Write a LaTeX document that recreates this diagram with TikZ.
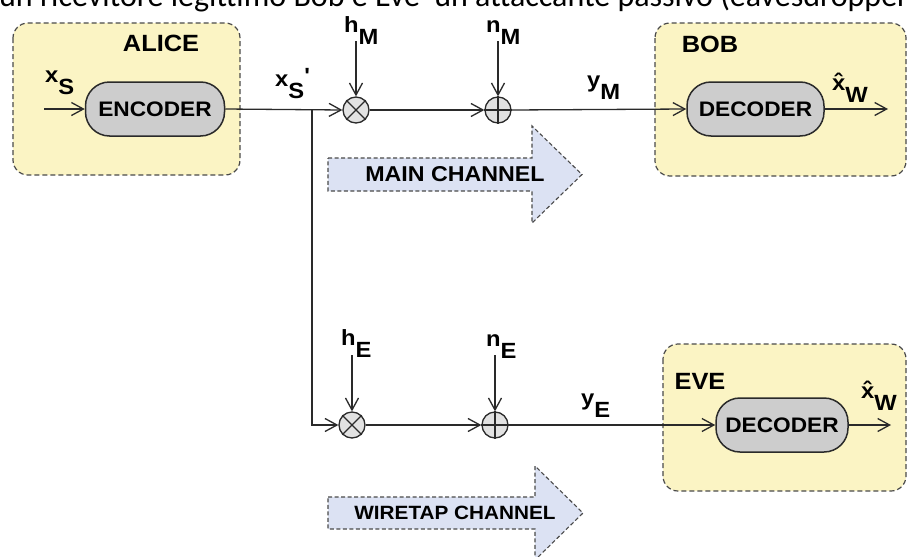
\documentclass[tikz,border=0pt]{standalone}
\usepackage{fontspec}
\setmainfont{Liberation Sans}
\newfontfamily\labfont[FakeStretch=1.08]{Liberation Sans}
\newfontfamily\bodyfont{Carlito}
\usetikzlibrary{arrows.meta}

\definecolor{partyfill}{HTML}{FBF4C4}
\definecolor{chanfill}{HTML}{DCE2F3}
\definecolor{blockfill}{HTML}{CDCDCD}
\definecolor{opfill}{HTML}{E2E2E2}
\definecolor{ink}{HTML}{2A2A2A}

% symbol with a lowered subscript, as printed on the wires
\newcommand{\sig}[2]{{\labfont\bfseries #1\raisebox{-0.58em}{#2}}}

\tikzset{
  wire/.style={draw=ink, line width=1.3pt},
  flow/.style={wire, -{Straight Barb[length=12pt,width=13pt]}},
  party/.style={draw=ink!85, fill=partyfill, line width=1.2pt,
                dash pattern=on 5pt off 3pt, rounded corners=15pt},
  block/.style={draw=ink, fill=blockfill, line width=1.5pt, rounded corners=24pt,
                inner sep=0pt, font=\labfont\bfseries\fontsize{21}{21}\selectfont},
  opnode/.style={circle, draw=ink, fill=opfill, line width=1.3pt,
                 minimum size=26pt, inner sep=0pt},
  chan/.style={draw=ink!85, fill=chanfill, line width=1.1pt,
               dash pattern=on 4pt off 2.5pt},
  title/.style={font=\labfont\bfseries\fontsize{23.5}{23.5}\selectfont, inner sep=0pt},
  sigl/.style={anchor=base west, inner sep=0pt, font=\fontsize{22}{22}\selectfont},
}

\begin{document}
\begin{tikzpicture}[x=1pt, y=-1pt]
\useasboundingbox (0,0) rectangle (908,557);
\clip (0,0) rectangle (908,557);
\fill[white] (0,0) rectangle (908,557);

% running text above the figure, cut by the frame
\node[anchor=base west, inner sep=0pt, font=\bodyfont\fontsize{32}{32}\selectfont]
  (caption) at (-1,6.5) {un ricevitore legittimo Bob e Eve' un attaccante passivo (eavesdropper};

% parties
\path[party] (13,23) rectangle (240,175);
\path[party] (655,23) rectangle (906,176);
\path[party] (663,344) rectangle (906,491);
\node[title] (alice) at (161,43.5) {ALICE};
\node[title] (bob) at (710,44) {BOB};
\node[title] (eve) at (700,381) {EVE};

% channel arrows
\path[chan] (328,158) -- (532,158) -- (532,126) -- (582,174.5) -- (532,223)
  -- (532,191) -- (328,191) -- cycle;
\node[font=\labfont\bfseries\fontsize{21.5}{21.5}\selectfont, inner sep=0pt]
  (mainlbl) at (455,174.5) {MAIN CHANNEL};
\path[chan] (328,497) -- (535,497) -- (535,466) -- (583,513) -- (535,560)
  -- (535,529) -- (328,529) -- cycle;
\node[font=\labfont\bfseries\fontsize{19.2}{19.2}\selectfont, inner sep=0pt]
  (taplbl) at (455,513) {WIRETAP CHANNEL};

% processing blocks
\node[block, minimum width=139pt, minimum height=54pt] (enc) at (155,109) {ENCODER};
\node[block, minimum width=137pt, minimum height=54pt] (decb) at (755.5,109) {DECODER};
\node[block, minimum width=132pt, minimum height=54pt] (dece) at (782,425) {DECODER};

% multipliers and adders
\node[opnode] (mulm) at (356,110) {};
\node[opnode] (addm) at (498,110) {};
\node[opnode] (mule) at (352,425) {};
\node[opnode] (adde) at (495,425) {};
\foreach \m in {mulm,mule}{
  \draw[wire, line width=1.1pt] (\m.45) -- (\m.225) (\m.135) -- (\m.315);
}
\foreach \a in {addm,adde}{
  \draw[wire, line width=1.1pt] (\a.north) -- (\a.south) (\a.west) -- (\a.east);
}

% free ends and branch point
\coordinate (xin) at (44,109);
\coordinate (split) at (312,109);
\coordinate (houtb) at (888,109);
\coordinate (houte) at (891,425);
\coordinate (hmtop) at (356,41);
\coordinate (nmtop) at (498,41);
\coordinate (hetop) at (352,355);
\coordinate (netop) at (495,355);

% signal path
\draw[flow] (xin) -- (enc.west);
\draw[flow] (enc.east) -- (mulm.west);
\draw[flow] (split) |- (mule.west);
\draw[flow] (mulm.east) -- (addm.west);
\draw[flow] (addm.east) -- (decb.west);
\draw[flow] (decb.east) -- (houtb);
\draw[flow] (mule.east) -- (adde.west);
\draw[flow] (adde.east) -- (dece.west);
\draw[flow] (dece.east) -- (houte);
\draw[flow] (hmtop) -- (mulm.north);
\draw[flow] (nmtop) -- (addm.north);
\draw[flow] (hetop) -- (mule.north);
\draw[flow] (netop) -- (adde.north);

% signal labels
\node[sigl] (xs) at (45,82) {\sig{x}{S}};
\node[sigl] (xsp) at (275,86) {\sig{x}{S}\labfont\bfseries\raisebox{0.1em}{'}};
\node[sigl] (hm) at (344,32) {\sig{h}{M}};
\node[sigl] (nm) at (486,32) {\sig{n}{M}};
\node[sigl] (ym) at (587,87) {\sig{y}{M}};
\node[sigl] (xwb) at (832,90) {\sig{x̂}{W}};
\node[sigl] (he) at (341,345) {\sig{h}{E}};
\node[sigl] (ne) at (486,346) {\sig{n}{E}};
\node[sigl] (ye) at (581,405) {\sig{y}{E}};
\node[sigl] (xwe) at (861,398) {\sig{x̂}{W}};
\end{tikzpicture}
\end{document}
